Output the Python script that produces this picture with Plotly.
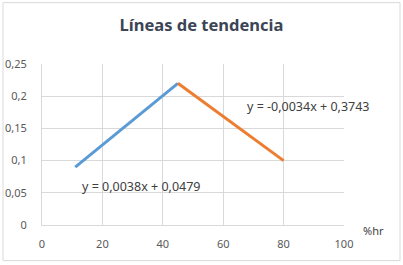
import plotly.graph_objects as go

blue_x = [11, 45]
blue_y = [0.09, 0.22]
orange_x = [45, 80]
orange_y = [0.22, 0.10]
title = "Líneas de tendencia"
eq_blue = "y = 0,0038x + 0,0479"
eq_orange = "y = -0,0034x + 0,3743"
x_ticks = [0, 20, 40, 60, 80, 100]
y_ticks = [0, 0.05, 0.1, 0.15, 0.2, 0.25]
y_labels = ["0", "0,05", "0,1", "0,15", "0,2", "0,25"]

FONT = "Noto Sans"
fig = go.Figure()
fig.add_trace(go.Scatter(x=blue_x, y=blue_y, mode="lines",
                         line=dict(color="#5B9BD5", width=3), hoverinfo="skip"))
fig.add_trace(go.Scatter(x=orange_x, y=orange_y, mode="lines",
                         line=dict(color="#ED7D31", width=3), hoverinfo="skip"))

fig.update_layout(
    width=403, height=265,
    margin=dict(l=42, r=59, t=64, b=40, autoexpand=False),
    paper_bgcolor="white", plot_bgcolor="white",
    showlegend=False,
    font=dict(family=FONT, size=11, color="#595959"),
    title=dict(text="<b>" + title + "</b>", x=0.5, xanchor="center",
               y=1 - 25 / 265, yanchor="middle",
               font=dict(family=FONT, size=16.5, color="#3b4556")),
    xaxis=dict(range=[0, 100], tickvals=x_ticks, ticktext=[str(v) for v in x_ticks],
               showgrid=True, gridcolor="#d9d9d9", gridwidth=1,
               showline=True, linecolor="#d9d9d9", linewidth=1,
               zeroline=False, ticks="outside", ticklen=9, tickcolor="rgba(0,0,0,0)",
               automargin=False, fixedrange=True),
    yaxis=dict(range=[0, 0.25], tickvals=y_ticks, ticktext=y_labels,
               showgrid=True, gridcolor="#d9d9d9", gridwidth=1,
               showline=True, linecolor="#d9d9d9", linewidth=1,
               zeroline=False, ticks="outside", ticklen=12, tickcolor="rgba(0,0,0,0)",
               automargin=False, fixedrange=True),
)

fig.add_annotation(x=33.0, y=0.0598, xref="x", yref="y", text=eq_blue,
                   showarrow=False, font=dict(family=FONT, size=12.5, color="#404040"))
fig.add_annotation(x=88.4, y=0.1838, xref="x", yref="y", text=eq_orange,
                   showarrow=False, font=dict(family=FONT, size=12.5, color="#404040"))
fig.add_annotation(x=(373 - 42) / 302, y=(225.3 - 230.7) / 161.3, xref="paper", yref="paper",
                   text="%hr", showarrow=False, xanchor="center", yanchor="middle",
                   font=dict(family=FONT, size=11, color="#404040"))
fig.add_shape(type="rect", xref="paper", yref="paper",
              x0=(3 - 42) / 302, x1=(400 - 42) / 302,
              y0=(225.3 - 261) / 161.3, y1=(225.3 - 2.5) / 161.3,
              line=dict(color="#d9d9d9", width=1), fillcolor="rgba(0,0,0,0)", layer="below")

fig.write_html("out.html", config={"displayModeBar": False},
               post_script="document.body.style.margin='0';")
